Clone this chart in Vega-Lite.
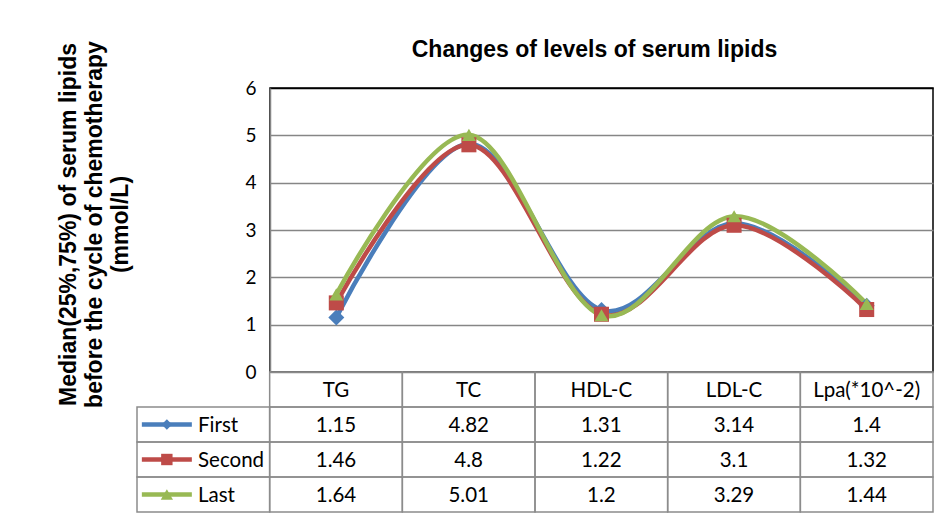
{
  "$schema": "https://vega.github.io/schema/vega-lite/v6.json",
  "width": 663,
  "height": 284,
  "autosize": {"type": "none"},
  "padding": {"left": 270, "top": 88, "right": 11, "bottom": 159},
  "background": "white",
  "config": {"view": {"stroke": "#000", "strokeWidth": 1.5}, "font": "Lato"},
  "title": {
    "text": "Changes of levels of serum lipids",
    "font": "Liberation Sans",
    "fontSize": 23,
    "fontWeight": "bold",
    "color": "#000",
    "anchor": "middle",
    "frame": "group",
    "dx": -7,
    "offset": -39,
    "baseline": "alphabetic"
  },
  "datasets": {
    "lipids": [
      {"series": "First", "cat": "TG", "value": 1.15},
      {"series": "First", "cat": "TC", "value": 4.82},
      {"series": "First", "cat": "HDL-C", "value": 1.31},
      {"series": "First", "cat": "LDL-C", "value": 3.14},
      {"series": "First", "cat": "Lpa(*10^-2)", "value": 1.4},
      {"series": "Second", "cat": "TG", "value": 1.46},
      {"series": "Second", "cat": "TC", "value": 4.8},
      {"series": "Second", "cat": "HDL-C", "value": 1.22},
      {"series": "Second", "cat": "LDL-C", "value": 3.1},
      {"series": "Second", "cat": "Lpa(*10^-2)", "value": 1.32},
      {"series": "Last", "cat": "TG", "value": 1.64},
      {"series": "Last", "cat": "TC", "value": 5.01},
      {"series": "Last", "cat": "HDL-C", "value": 1.2},
      {"series": "Last", "cat": "LDL-C", "value": 3.29},
      {"series": "Last", "cat": "Lpa(*10^-2)", "value": 1.44}
    ]
  },
  "data": {"name": "lipids"},
  "layer": [
    {
      "layer": [
        {
          "mark": {"type": "line", "interpolate": "cardinal", "strokeWidth": 4.5},
          "encoding": {
            "x": {"field": "cat", "type": "nominal", "sort": ["TG", "TC", "HDL-C", "LDL-C", "Lpa(*10^-2)"], "scale": {"type": "point", "padding": 0.5}, "axis": null},
            "y": {
              "field": "value",
              "type": "quantitative",
              "scale": {"domain": [0, 6], "nice": false},
              "axis": {
                "values": [0, 1, 2, 3, 4, 5, 6],
                "grid": true,
                "gridColor": {"condition": {"test": "datum.value == 6", "value": "#000"}, "value": "#868686"},
                "gridWidth": 1.5,
                "domainColor": "#868686",
                "domainWidth": 1.5,
                "ticks": false,
                "labelPadding": 14,
                "labelFont": "Lato",
                "labelFontSize": 19,
                "labelColor": "#000",
                "title": ["Median(25%,75%) of serum lipids", "before the cycle of chemotherapy", "(mmol/L)"],
                "titleFont": "Liberation Sans",
                "titleFontSize": 23,
                "titleFontWeight": "bold",
                "titleColor": "#000",
                "titleAngle": -90,
                "titleX": -195,
                "titleY": 136,
                "titleAlign": "center",
                "titleBaseline": "alphabetic",
                "titleLineHeight": 26
              }
            },
            "color": {"field": "series", "type": "nominal", "scale": {"domain": ["First", "Second", "Last"], "range": ["#4A7EBB", "#BE4B48", "#98B954"]}, "legend": null}
          }
        },
        {
          "mark": {"type": "point", "filled": true, "opacity": 1},
          "encoding": {
            "x": {"field": "cat", "type": "nominal", "sort": ["TG", "TC", "HDL-C", "LDL-C", "Lpa(*10^-2)"], "axis": null},
            "y": {"field": "value", "type": "quantitative"},
            "color": {"field": "series", "type": "nominal", "legend": null},
            "shape": {"field": "series", "type": "nominal", "scale": {"domain": ["First", "Second", "Last"], "range": ["diamond", "square", "triangle-up"]}, "legend": null},
            "size": {"field": "series", "type": "ordinal", "scale": {"domain": ["First", "Second", "Last"], "range": [256, 196, 300]}, "legend": null}
          }
        }
      ]
    },
    {
      "layer": [
        {
          "mark": {"type": "rect", "filled": false, "stroke": "#8c8c8c", "strokeWidth": 1.5},
          "encoding": {
            "x": {"field": "cat", "type": "nominal", "scale": {"type": "band", "domain": ["key", "TG", "TC", "HDL-C", "LDL-C", "Lpa(*10^-2)"], "range": [-133, 663], "paddingInner": 0, "paddingOuter": 0}, "axis": null},
            "y": {"field": "series", "type": "nominal", "scale": {"type": "band", "domain": ["head", "First", "Second", "Last"], "range": [284, 424], "paddingInner": 0, "paddingOuter": 0}, "axis": null}
          }
        },
        {
          "mark": {"type": "text", "font": "Lato", "fontSize": 20.5, "color": "#000", "baseline": "middle", "align": "center", "dy": 1},
          "encoding": {
            "x": {"field": "cat", "type": "nominal"},
            "y": {"field": "series", "type": "nominal"},
            "text": {"field": "value", "type": "nominal"}
          }
        },
        {
          "transform": [{"filter": "datum.series == 'First'"}],
          "mark": {"type": "rect", "filled": false, "stroke": "#8c8c8c", "strokeWidth": 1.5},
          "encoding": {
            "x": {"field": "cat", "type": "nominal"},
            "y": {"datum": "head", "type": "nominal"}
          }
        },
        {
          "transform": [{"filter": "datum.series == 'First'"}],
          "mark": {"type": "text", "font": "Lato", "fontSize": 20.5, "color": "#000", "baseline": "middle", "align": "center", "dy": 1},
          "encoding": {
            "x": {"field": "cat", "type": "nominal"},
            "y": {"datum": "head", "type": "nominal"},
            "text": {"field": "cat", "type": "nominal"}
          }
        },
        {
          "transform": [{"filter": "datum.cat == 'TG'"}],
          "mark": {"type": "rect", "filled": false, "stroke": "#8c8c8c", "strokeWidth": 1.5},
          "encoding": {
            "x": {"datum": "key", "type": "nominal"},
            "y": {"field": "series", "type": "nominal"}
          }
        },
        {
          "transform": [{"filter": "datum.cat == 'TG'"}],
          "mark": {"type": "point", "filled": true, "opacity": 1, "shape": "M-1,-0.09L1,-0.09L1,0.09L-1,0.09Z", "size": 2500},
          "encoding": {
            "x": {"datum": "key", "type": "nominal", "bandPosition": 0.225},
            "y": {"field": "series", "type": "nominal"},
            "color": {"field": "series", "type": "nominal", "legend": null}
          }
        },
        {
          "transform": [{"filter": "datum.cat == 'TG'"}],
          "mark": {"type": "point", "filled": true, "opacity": 1},
          "encoding": {
            "x": {"datum": "key", "type": "nominal", "bandPosition": 0.225},
            "y": {"field": "series", "type": "nominal"},
            "color": {"field": "series", "type": "nominal", "legend": null},
            "shape": {"field": "series", "type": "nominal", "legend": null},
            "size": {"field": "series", "type": "ordinal", "scale": {"domain": ["First", "Second", "Last"], "range": [110, 150, 180]}, "legend": null}
          }
        },
        {
          "transform": [{"filter": "datum.cat == 'TG'"}],
          "mark": {"type": "text", "font": "Lato", "fontSize": 20.5, "color": "#000", "baseline": "middle", "align": "left", "dy": 1},
          "encoding": {
            "x": {"datum": "key", "type": "nominal", "bandPosition": 0.46},
            "y": {"field": "series", "type": "nominal"},
            "text": {"field": "series", "type": "nominal"}
          }
        }
      ]
    }
  ],
  "resolve": {"scale": {"x": "independent", "y": "independent", "size": "independent"}}
}
